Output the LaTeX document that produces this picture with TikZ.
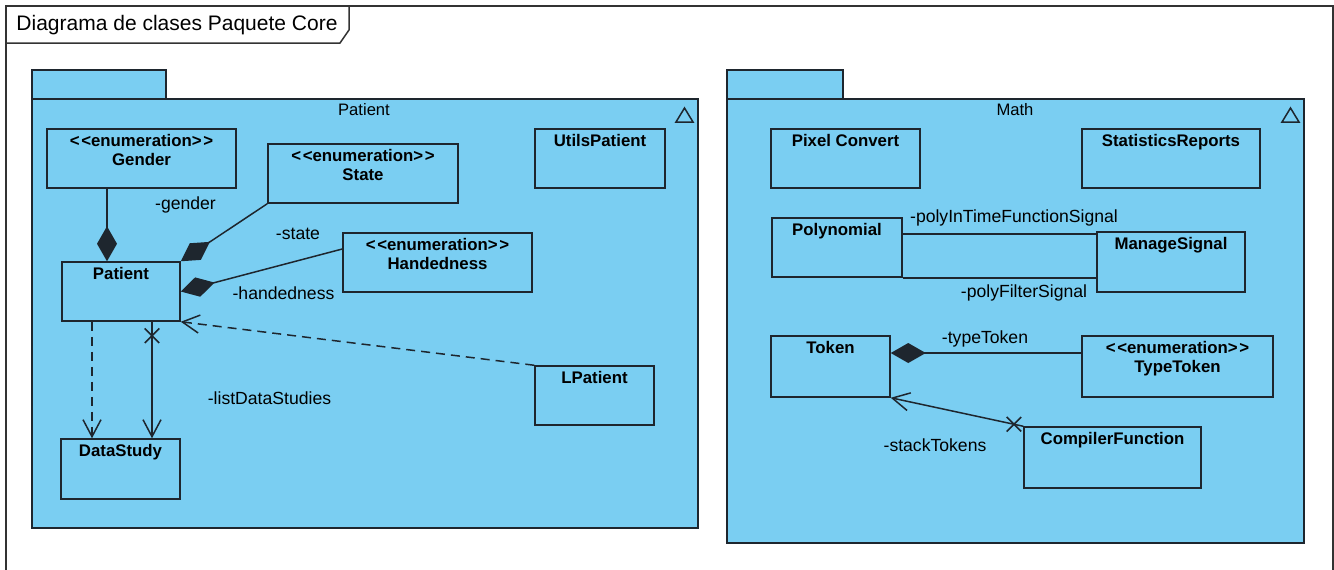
\documentclass[tikz,border=0pt]{standalone}
\usepackage{fontspec}
\setmainfont{Liberation Sans}
\usetikzlibrary{arrows.meta, calc, shapes.misc}
\definecolor{pkgblue}{RGB}{122,206,242}
\definecolor{edge}{RGB}{30,38,46}
\newcommand{\stereo}{<\kern0.8pt<enumeration>\kern0.8pt>}

\begin{document}
\begin{tikzpicture}[x=0.5pt, y=-0.5pt]
            \tikzstyle{cls} = [rectangle, draw=edge, fill=pkgblue, line width=0.75pt,
                               minimum height=29.5pt, inner sep=0pt]
            \tikzstyle{clsname} = [anchor=north, inner sep=3pt, align=center,
                                   font=\bfseries\fontsize{8.4}{9.3}\selectfont]
            \tikzstyle{pkg} = [draw=edge, fill=pkgblue, line width=0.75pt]
            \tikzstyle{role} = [font=\fontsize{8.8}{10}\selectfont, inner sep=0pt]
            \tikzstyle{comp} = [{Diamond[length=17.5pt,width=10pt]}-, line width=0.75pt, edge]
            \tikzstyle{nav} = [-{Straight Barb[length=8.5pt,width=9pt]}, line width=0.75pt, edge]
            \tikzstyle{dep} = [nav, dash pattern=on 4.5pt off 3pt]
            \tikzstyle{assoc} = [line width=0.75pt, edge]
            \tikzstyle{xmark} = [cross out, draw=edge, line width=0.75pt, minimum size=6.5pt, inner sep=0pt]

            \useasboundingbox (0,0) rectangle (1334,569);
            \clip (0,0) rectangle (1334,569);

            % frame
            \draw[assoc, draw=black!80] (6,600) -- (6,6) -- (1333,6) -- (1333,600);
            \draw[assoc, draw=black!80] (6,43) -- (340,43) -- (349,30) -- (349,6);
            \node (title) [font=\fontsize{10.5}{12}\selectfont] at (177,25) {Diagrama de clases Paquete Core};

            % packages
            \draw[pkg] (32,70) rectangle (166,99);
            \draw[pkg] (32,99) rectangle (698,528);
            \node (patientpkg) [role, font=\fontsize{8.3}{10}\selectfont] at (364,110) {Patient};
            \draw[assoc] (676,122) -- (693,122) -- (684.5,108) -- cycle;

            \draw[pkg] (727,70) rectangle (843,99);
            \draw[pkg] (727,99) rectangle (1304,543);
            \node (mathpkg) [role, font=\fontsize{8.3}{10}\selectfont] at (1015,110) {Math};
            \draw[assoc] (1282,122) -- (1299,122) -- (1290.5,108) -- cycle;

            % Patient classes
            \node (gender)    [cls, minimum width=94.5pt, label={[clsname]north:{\stereo\\Gender}}] at (141.5,158.5) {};
            \node (state)     [cls, minimum width=95pt, label={[clsname]north:{\stereo\\State}}] at (363,173.5) {};
            \node (utils)     [cls, minimum width=65pt, label={[clsname]north:UtilsPatient}] at (600,158.5) {};
            \node (handed)    [cls, minimum width=94.5pt, label={[clsname]north:{\stereo\\Handedness}}] at (437.5,262.5) {};
            \node (patient)   [cls, minimum width=59pt, label={[clsname]north:Patient}] at (121,291.5) {};
            \node (lpatient)  [cls, minimum width=59.5pt, label={[clsname]north:LPatient}] at (594.5,395.5) {};
            \node (datastudy) [cls, minimum width=59.5pt, minimum height=30pt, label={[clsname]north:DataStudy}] at (120.5,469) {};

            % Math classes
            \node (pixel)     [cls, minimum width=74.5pt, label={[clsname]north:Pixel Convert}] at (845.5,158.5) {};
            \node (stats)     [cls, minimum width=89pt, label={[clsname]north:StatisticsReports}] at (1171,158.5) {};
            \node (poly)      [cls, minimum width=65pt, label={[clsname]north:Polynomial}] at (837,247.5) {};
            \node (manage)    [cls, minimum width=74pt, minimum height=30pt, label={[clsname]north:ManageSignal}] at (1171,262) {};
            \node (token)     [cls, minimum width=59.5pt, minimum height=30.5pt, label={[clsname]north:Token}] at (830.5,366.5) {};
            \node (typetoken) [cls, minimum width=95.5pt, minimum height=30.5pt, label={[clsname]north:{\stereo\\TypeToken}}] at (1177.5,366.5) {};
            \node (compiler)  [cls, minimum width=88.5pt, minimum height=30.5pt, label={[clsname]north:CompilerFunction}] at (1112.5,457.5) {};

            % Patient relations
            \coordinate (pg) at ([xshift=-7pt]patient.north);
            \draw[comp] (pg) -- (pg |- gender.south);
            \draw[comp] (patient.north east) -- (state.south west);
            \draw[comp] (patient.east) -- ([yshift=6.75pt]handed.west);
            \coordinate (pdA) at ([xshift=15.5pt]patient.south);
            \draw[nav] (pdA) -- node[xmark, pos=0.12] (pdX) {} (pdA |- datastudy.north);
            \coordinate (pdB) at ([xshift=-14.5pt]patient.south);
            \draw[dep] (pdB) -- (pdB |- datastudy.north);
            \draw[dep] (lpatient.north west) -- (patient.south east);

            \node (lgender)  [role] at (185.5,205) {-gender};
            \node (lstate)   [role] at (298,234) {-state};
            \node (lhanded)  [role] at (283.5,293) {-handedness};
            \node (llist)    [role] at (269.5,398) {-listDataStudies};

            % Math relations
            \coordinate (pm) at ([yshift=6.75pt]poly.east);
            \draw[assoc] (pm) -- (pm -| manage.west);
            \draw[assoc] (poly.south east) -- (poly.south east -| manage.west);
            \coordinate (tt) at ([yshift=6.75pt]token.east);
            \draw[comp] (tt) -- (tt -| typetoken.west);
            \draw[nav] (compiler.north west) -- node[xmark, pos=0.07] (tcX) {} (token.south east);

            \node (lpolyin)  [role] at (1014,218) {-polyInTimeFunctionSignal};
            \node (lpolyfil) [role] at (1024,293) {-polyFilterSignal};
            \node (ltype)    [role] at (985,339) {-typeToken};
            \node (lstack)   [role] at (935,445) {-stackTokens};
\end{tikzpicture}
\end{document}
